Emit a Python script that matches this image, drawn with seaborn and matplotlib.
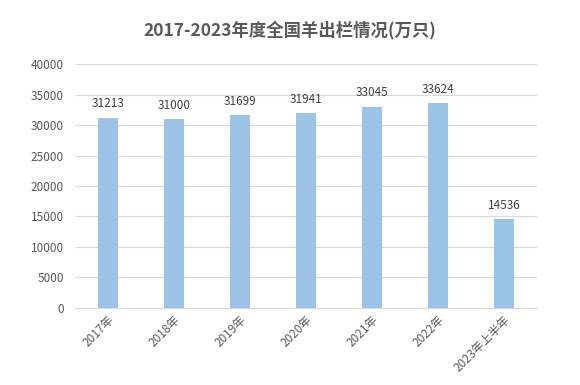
import matplotlib
matplotlib.use("Agg")
import matplotlib.pyplot as plt
import seaborn as sns
import pandas as pd

categories = ["2017年", "2018年", "2019年", "2020年", "2021年", "2022年", "2023年上半年"]
values = [31213, 31000, 31699, 31941, 33045, 33624, 14536]
yticks = [0, 5000, 10000, 15000, 20000, 25000, 30000, 35000, 40000]
title = "2017-2023年度全国羊出栏情况(万只)"

sns.set_theme(style="white")
plt.rcParams['font.family'] = ['Noto Sans CJK SC', 'DejaVu Sans']

df = pd.DataFrame({"cat": categories, "val": values})

fig = plt.figure(figsize=(5.8, 3.85), dpi=100)
ax = fig.add_axes([0.129, 0.2008, 0.797, 0.6322])

sns.barplot(data=df, x="cat", y="val", color="#9DC3E6", width=0.31,
            saturation=1, linewidth=0, ax=ax, zorder=3)

ax.set_ylim(0, 40000)
ax.set_yticks(yticks)
ax.set_yticklabels([str(v) for v in yticks], fontsize=8.5, color="#595959")
ax.yaxis.grid(True, color="#D9D9D9", linewidth=0.8, zorder=0)
ax.set_axisbelow(True)
for s in ["top", "right", "left"]:
    ax.spines[s].set_visible(False)
ax.spines["bottom"].set_color("#D9D9D9")
ax.spines["bottom"].set_linewidth(0.8)
ax.tick_params(axis="both", length=0, pad=8)
ax.set_xlabel("")
ax.set_ylabel("")
ax.set_xlim(-0.5, len(categories) - 0.5)

ax.set_xticks(range(len(categories)))
ax.set_xticklabels(categories, rotation=45, ha="right", va="top",
                   rotation_mode="anchor", fontsize=8.5, color="#595959")
ax.tick_params(axis="x", pad=4)

for i, v in enumerate(values):
    ax.text(i, v + 1200, str(v), ha="center", va="bottom", fontsize=8.5,
            color="#404040")

fig.text(0.5, 0.922, title, ha="center", va="center", fontsize=12.5,
         fontweight="bold", color="#595959")

fig.savefig("out.png", dpi=100)
